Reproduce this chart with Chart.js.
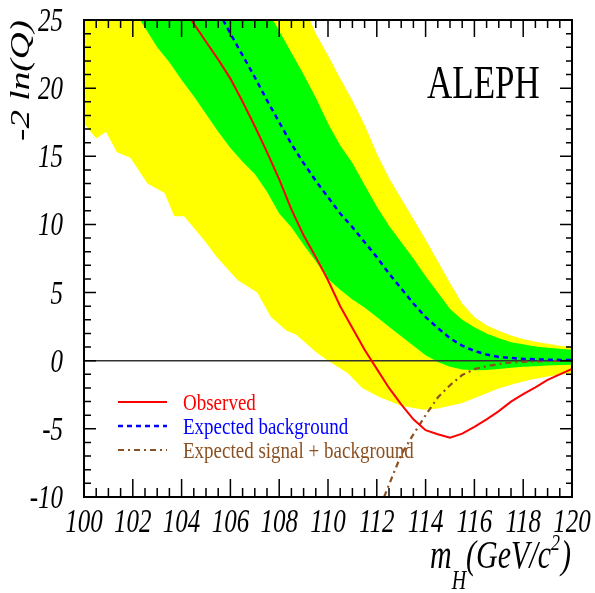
<!DOCTYPE html>
<html>
<head>
<meta charset="utf-8">
<script src="https://cdn.jsdelivr.net/npm/chart.js@4.4.0/dist/chart.umd.min.js"></script>
<style>
    body { margin: 0; background: #fff; }
    canvas { display: block; }
</style>
</head>
<body>
<canvas id="canvasAleph" width="595" height="593"></canvas>
<script>
//#region Data
const xTickLabels = [100, 102, 104, 106, 108, 110, 112, 114, 116, 118, 120]
const yTickLabels = [-10, -5, 0, 5, 10, 15, 20, 25]

const massObs = [104.4, 105, 105.5, 106, 106.5, 107, 107.5, 108, 108.5, 109, 109.5, 110, 110.5, 111, 111.5, 112, 112.5, 113, 113.5, 114, 114.5, 115, 115.5, 116, 116.5, 117, 117.5, 118, 118.5, 119, 119.5, 120]
const observed = [25, 23.4, 22.1, 20.7, 19.0, 17.2, 15.3, 13.3, 11.1, 9.2, 7.6, 5.9, 4.0, 2.4, 0.8, -0.6, -2.0, -3.2, -4.3, -5.1, -5.4, -5.65, -5.35, -4.85, -4.3, -3.7, -3.0, -2.45, -1.95, -1.4, -1.0, -0.6]

const massBkg = [105.7, 106, 106.5, 107, 107.5, 108, 108.5, 109, 109.5, 110, 110.5, 111, 111.5, 112, 112.5, 113, 113.5, 114, 114.5, 115, 115.5, 116, 116.5, 117, 117.5, 118, 118.5, 119, 119.5, 120]
const expectedBkg = [25, 24.0, 22.4, 20.8, 19.1, 17.5, 15.9, 14.5, 13.2, 12.0, 10.8, 9.8, 8.7, 7.6, 6.4, 5.3, 4.2, 3.2, 2.4, 1.65, 1.1, 0.72, 0.45, 0.28, 0.2, 0.14, 0.1, 0.08, 0.06, 0.05]

const massSig = [112.3, 112.5, 113, 113.5, 114, 114.5, 115, 115.5, 116, 116.5, 117, 117.5, 118, 118.5, 119, 119.5, 120]
const expectedSig = [-10, -9.1, -6.9, -5.4, -4.0, -2.7, -1.8, -1.05, -0.62, -0.4, -0.24, -0.13, -0.08, -0.05, -0.03, -0.01, 0]

// 2 sigma band (yellow)
const massYelHi = [100, 109.26, 109.5, 110, 110.5, 111, 111.5, 112, 112.5, 113, 113.5, 114, 114.5, 115, 115.5, 116, 116.5, 117, 117.5, 118, 118.5, 119, 119.5, 120]
const yellowHi = [25, 25, 24.0, 22.4, 20.7, 19.1, 17.3, 15.2, 13.4, 11.9, 10.4, 8.9, 7.3, 5.7, 4.2, 3.2, 2.6, 2.2, 1.85, 1.6, 1.4, 1.25, 1.1, 1.0]
const massYelLo = [100, 100.5, 100.9, 101.35, 101.9, 102.6, 103.3, 103.7, 104.1, 104.9, 105.45, 106.3, 107.1, 107.66, 108.3, 108.7, 109.55, 110, 110.8, 111.4, 112.1, 113, 113.9, 114.5, 115.5, 116.2, 116.9, 117.6, 118.3, 119, 120]
const yellowLo = [17.4, 16.3, 16.8, 15.3, 14.9, 13.0, 12.3, 10.6, 10.6, 8.9, 7.6, 5.9, 5.0, 3.2, 2.2, 1.9, 0.57, 0.0, -0.9, -2.0, -2.66, -3.3, -3.6, -3.5, -3.1, -2.6, -2.1, -1.7, -1.4, -1.15, -0.9]

// 1 sigma band (green)
const massGrnHi = [102.3, 107.75, 108, 108.5, 109, 109.5, 110, 110.5, 111, 111.5, 112, 112.5, 113, 113.5, 114, 114.5, 115, 115.5, 116, 116.5, 117, 117.5, 118, 118.5, 119, 119.5, 120]
const greenHi = [25, 25, 24.2, 22.6, 21.0, 19.3, 17.4, 15.8, 14.5, 12.9, 11.3, 9.9, 8.7, 7.5, 6.2, 5.0, 3.8, 3.0, 2.45, 2.0, 1.65, 1.35, 1.2, 1.05, 0.95, 0.87, 0.8]
const massGrnLo = [102.3, 103, 103.5, 104, 104.5, 105, 105.5, 106, 106.5, 107, 107.5, 108, 108.5, 109, 109.5, 110, 110.5, 111, 111.5, 112, 112.5, 113, 113.5, 114, 114.5, 115, 115.5, 116, 116.5, 117, 117.5, 118, 118.5, 119, 119.5, 120]
const greenLo = [25, 23.0, 21.9, 20.6, 19.4, 18.1, 16.8, 15.6, 14.6, 13.7, 12.4, 10.8, 9.8, 8.5, 7.3, 6.0, 5.2, 4.5, 3.9, 3.2, 2.5, 1.8, 1.1, 0.4, -0.1, -0.45, -0.65, -0.7, -0.68, -0.6, -0.52, -0.45, -0.4, -0.35, -0.32, -0.3]
//#endregion

const pts = (xs, ys) => xs.map((x, i) => ({ x, y: ys[i] }))
const SERIF = '"Liberation Serif", "DejaVu Serif", serif'
const STRETCH = 1.33

// text in the original is squashed horizontally, so draw it with a vertical stretch
const stretchText = (ctx, text, x, y, font, align, sy) => {
    ctx.save()
    ctx.translate(x, y)
    ctx.scale(1, sy)
    ctx.font = font
    ctx.textAlign = align
    ctx.textBaseline = 'alphabetic'
    ctx.fillText(text, 0, 0)
    const w = ctx.measureText(text).width
    ctx.restore()
    return w
}

//#region Frame, ticks, labels, legend
const alephFrame = {
    id: 'alephFrame',
    afterDraw: chart => {
        const { ctx, chartArea: a, scales: { x, y } } = chart
        ctx.save()
        ctx.strokeStyle = '#000'
        ctx.fillStyle = '#000'

        // inward ticks on all four sides
        ctx.lineWidth = 1.5
        ctx.beginPath()
        const xSteps = (x.max - x.min) / 0.5
        for (let i = 0; i <= xSteps; i++) {
            const v = x.min + i * 0.5
            const px = x.getPixelForValue(v)
            const major = i % 4 === 0
            ctx.moveTo(px, a.bottom); ctx.lineTo(px, a.bottom - (major ? 18 : 9))
            ctx.moveTo(px, a.top); ctx.lineTo(px, a.top + (major ? 17 : 8))
        }
        for (let v = y.min; v <= y.max; v++) {
            const py = y.getPixelForValue(v)
            const major = v % 5 === 0
            ctx.moveTo(a.left, py); ctx.lineTo(a.left + (major ? 12 : 7), py)
            ctx.moveTo(a.right, py); ctx.lineTo(a.right - (major ? 12 : 6), py)
        }
        ctx.stroke()

        ctx.lineWidth = 2
        ctx.strokeRect(a.left, a.top, a.right - a.left, a.bottom - a.top)

        // tick labels
        const tickFont = `italic 25px ${SERIF}`
        xTickLabels.forEach(v => stretchText(ctx, String(v), x.getPixelForValue(v), a.bottom + 35, tickFont, 'center', STRETCH))
        yTickLabels.forEach(v => stretchText(ctx, String(v), a.left - 21, y.getPixelForValue(v) + 11, tickFont, 'right', STRETCH))

        // y title, rotated
        ctx.save()
        ctx.translate(29, a.top)
        ctx.scale(1, STRETCH)
        ctx.rotate(-Math.PI / 2)
        ctx.font = `italic 28px ${SERIF}`
        ctx.textAlign = 'right'
        ctx.fillText('-2 ln(Q)', 0, 0)
        ctx.restore()

        // x title m_H(GeV/c^2)
        let tx = 430
        const big = `italic 30px ${SERIF}`, small = `italic 20px ${SERIF}`
        tx += stretchText(ctx, 'm', tx, 568, big, 'left', STRETCH)
        tx += stretchText(ctx, 'H', tx, 589, small, 'left', STRETCH)
        tx += stretchText(ctx, '(GeV/c', tx, 568, big, 'left', STRETCH)
        tx += stretchText(ctx, '2', tx, 550, `italic 18px ${SERIF}`, 'left', STRETCH)
        stretchText(ctx, ')', tx + 1, 568, big, 'left', STRETCH)

        // experiment label
        stretchText(ctx, 'ALEPH', 427, 98, `35px ${SERIF}`, 'left', 1.3)

        // legend, built from the curve datasets
        chart.data.datasets.filter(d => d.inLegend).forEach((d, i) => {
            const ly = 402 + i * 24
            ctx.save()
            ctx.strokeStyle = d.borderColor
            ctx.lineWidth = d.borderWidth
            ctx.setLineDash(d.borderDash || [])
            ctx.beginPath()
            ctx.moveTo(a.left + 34, ly); ctx.lineTo(a.left + 83, ly)
            ctx.stroke()
            ctx.fillStyle = d.borderColor
            stretchText(ctx, d.label, a.left + 99, ly + 8, `19px ${SERIF}`, 'left', 1.25)
            ctx.restore()
        })
        ctx.restore()
    }
}
//#endregion

//#region ChartJs
const band = (data, fill, color, order) => ({
    data, fill, order,
    showLine: true,
    backgroundColor: color,
    borderColor: 'transparent',
    borderWidth: 0,
    pointRadius: 0,
    tension: 0
})

const curve = (label, data, color, width, dash, order) => ({
    label, data, order,
    inLegend: true,
    showLine: true,
    fill: false,
    borderColor: color,
    borderWidth: width,
    borderDash: dash,
    pointRadius: 0,
    tension: 0
})

new Chart(document.getElementById('canvasAleph'), {
    type: 'scatter',
    data: {
        datasets: [
            band(pts(massYelHi, yellowHi), 1, '#ffff00', 10),
            band(pts(massYelLo, yellowLo), false, 'transparent', 11),
            band(pts(massGrnHi, greenHi), 3, '#00ff00', 8),
            band(pts(massGrnLo, greenLo), false, 'transparent', 9),
            {
                data: [{ x: xTickLabels[0], y: 0 }, { x: xTickLabels[xTickLabels.length - 1], y: 0 }],
                showLine: true, fill: false, borderColor: '#333', borderWidth: 1.5, pointRadius: 0, order: 5
            },
            curve('Observed', pts(massObs, observed), '#ff0000', 2, [], 1),
            curve('Expected background', pts(massBkg, expectedBkg), '#0000ff', 2.5, [5, 4], 2),
            curve('Expected signal + background', pts(massSig, expectedSig), '#8c5020', 2.2, [6, 4, 2, 4], 3)
        ]
    },
    options: {
        responsive: false,
        animation: false,
        devicePixelRatio: 1,
        layout: { padding: { left: 84, right: 23, top: 20, bottom: 96 } },
        scales: {
            x: { type: 'linear', min: 100, max: 120, display: false },
            y: { type: 'linear', min: -10, max: 25, display: false }
        },
        plugins: {
            legend: { display: false },
            tooltip: { enabled: false }
        }
    },
    plugins: [alephFrame]
})
//#endregion
</script>
</body>
</html>
